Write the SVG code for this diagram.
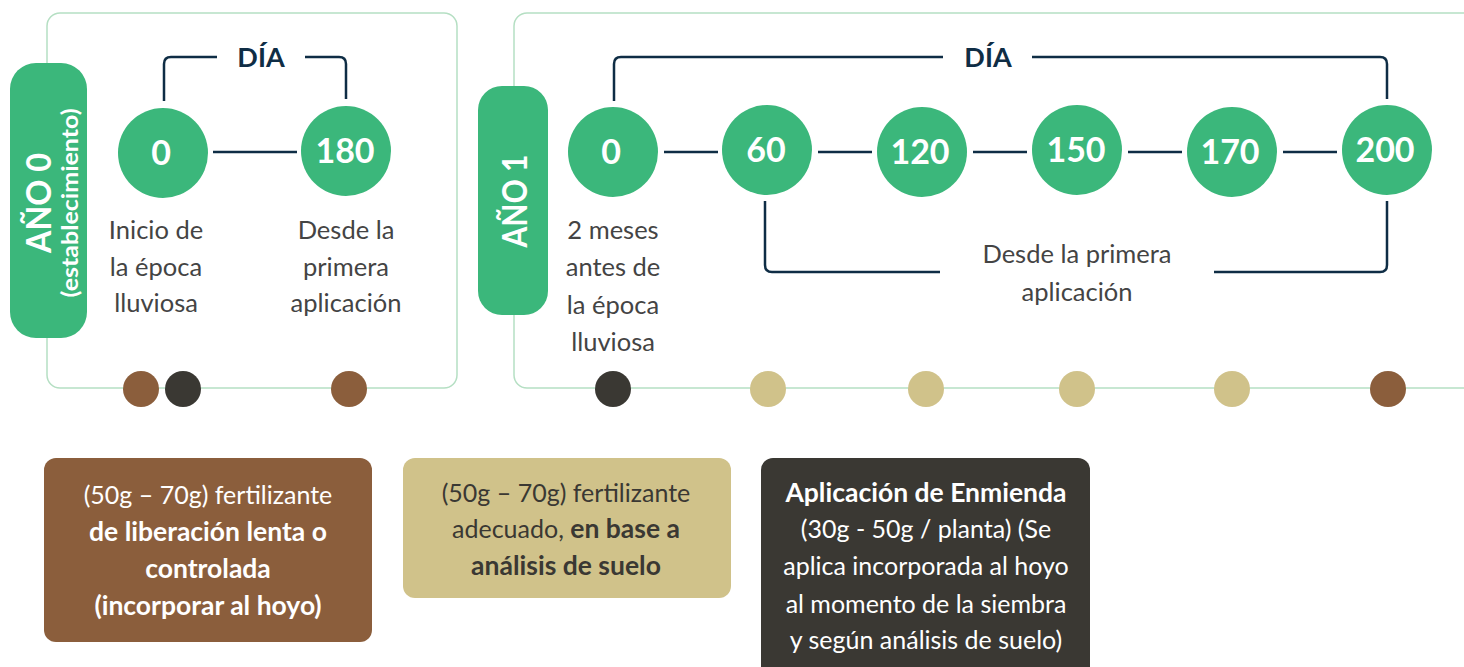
<svg xmlns="http://www.w3.org/2000/svg" width="1464" height="667" viewBox="0 0 1464 667">
<style>
.frame{fill:#fff;stroke:#b5dfc3;stroke-width:1.5}
.tag{fill:#3bb77b}
.circ{fill:#3bb77b}
.num{font-family:Lato,"Liberation Sans",sans-serif;font-weight:bold;font-size:34px;fill:#fff;text-anchor:middle}
.dia{font-family:Lato,"Liberation Sans",sans-serif;font-weight:bold;font-size:27px;fill:#0f2d45;text-anchor:middle}
.lbl{font-family:Lato,"Liberation Sans",sans-serif;font-size:25.5px;fill:#444;text-anchor:middle}
.yr{font-family:Lato,"Liberation Sans",sans-serif;font-weight:bold;fill:#fff;text-anchor:middle}
.ln{fill:none;stroke:#0f2d45;stroke-width:2.5}
.box{font-family:Lato,"Liberation Sans",sans-serif;font-size:25px;text-anchor:middle}
.b{font-weight:bold;font-size:26.5px}
.brown{fill:#8b5e3c}.dark{fill:#3a3833}.tan{fill:#d0c28a}
</style>
<g id="frame0"><rect class="frame" x="47" y="13" width="410" height="375" rx="13"/></g>
<g id="frame1"><rect class="frame" x="514" y="13" width="980" height="375" rx="13"/></g>
<g id="connectors">
<path class="ln" d="M164 101 V64 Q164 57 171 57 H217"/>
<path class="ln" d="M305 57 H339 Q346 57 346 64 V99"/>
<line class="ln" x1="213" y1="152" x2="297" y2="152"/>
<path class="ln" d="M614 101 V64 Q614 57 621 57 H943"/>
<path class="ln" d="M1032 57 H1380 Q1387 57 1387 64 V99"/>
<line class="ln" x1="664" y1="152" x2="718" y2="152"/>
<line class="ln" x1="818" y1="152" x2="872" y2="152"/>
<line class="ln" x1="973" y1="152" x2="1027" y2="152"/>
<line class="ln" x1="1128" y1="152" x2="1182" y2="152"/>
<line class="ln" x1="1283" y1="152" x2="1337" y2="152"/>
<path class="ln" d="M765 201 V265 Q765 272 772 272 H940"/>
<path class="ln" d="M1214 272 H1380 Q1387 272 1387 265 V201"/>
</g>
<g id="year0">
<rect class="tag" x="10" y="63" width="77" height="275" rx="26"/>
<text class="yr" transform="translate(51,203) rotate(-90)" font-size="34" textLength="100" lengthAdjust="spacingAndGlyphs">AÑO 0</text>
<text class="yr" transform="translate(78,203) rotate(-90)" font-size="22" textLength="189" lengthAdjust="spacingAndGlyphs">(establecimiento)</text>
</g>
<g id="year1">
<rect class="tag" x="478" y="86" width="70" height="229" rx="24"/>
<text class="yr" transform="translate(527,201) rotate(-90)" font-size="34" textLength="93" lengthAdjust="spacingAndGlyphs">AÑO 1</text>
</g>
<text class="dia" x="261" y="67">DÍA</text>
<text class="dia" x="988" y="67">DÍA</text>
<g id="d0a"><circle class="circ" cx="163" cy="153" r="45"/><text class="num" x="161" y="165">0</text></g>
<g id="d180a"><circle class="circ" cx="346" cy="151" r="45"/><text class="num" x="345" y="163">180</text></g>
<g id="d0b"><circle class="circ" cx="613" cy="152" r="45"/><text class="num" x="611" y="164">0</text></g>
<g id="d60"><circle class="circ" cx="767" cy="150" r="45"/><text class="num" x="766" y="162">60</text></g>
<g id="d120"><circle class="circ" cx="922" cy="152" r="45"/><text class="num" x="920" y="164">120</text></g>
<g id="d150"><circle class="circ" cx="1077" cy="150" r="45"/><text class="num" x="1076" y="162">150</text></g>
<g id="d170"><circle class="circ" cx="1232" cy="152" r="45"/><text class="num" x="1230" y="164">170</text></g>
<g id="d200"><circle class="circ" cx="1387" cy="150" r="45"/><text class="num" x="1385" y="162">200</text></g>
<g id="labels">
<text class="lbl" x="156" y="239">Inicio de</text>
<text class="lbl" x="156" y="276">la época</text>
<text class="lbl" x="156" y="312">lluviosa</text>
<text class="lbl" x="346" y="239">Desde la</text>
<text class="lbl" x="346" y="276">primera</text>
<text class="lbl" x="346" y="312">aplicación</text>
<text class="lbl" x="613" y="239">2 meses</text>
<text class="lbl" x="613" y="276">antes de</text>
<text class="lbl" x="613" y="314">la época</text>
<text class="lbl" x="613" y="351">lluviosa</text>
<text class="lbl" x="1077" y="263">Desde la primera</text>
<text class="lbl" x="1077" y="301">aplicación</text>
</g>
<g id="dots">
<circle class="brown" cx="141" cy="389" r="18"/>
<circle class="dark" cx="183" cy="389" r="18"/>
<circle class="brown" cx="349" cy="389" r="18"/>
<circle class="dark" cx="613" cy="389" r="18"/>
<circle class="tan" cx="768" cy="389" r="18"/>
<circle class="tan" cx="926" cy="389" r="18"/>
<circle class="tan" cx="1077" cy="389" r="18"/>
<circle class="tan" cx="1232" cy="389" r="18"/>
<circle class="brown" cx="1388" cy="389" r="18"/>
</g>
<g id="legend-brown">
<rect class="brown" x="44" y="458" width="328" height="184" rx="12"/>
<text class="box" fill="#fff" x="208" y="504">(50g – 70g) fertilizante</text>
<text class="box b" fill="#fff" x="208" y="541">de liberación lenta o</text>
<text class="box b" fill="#fff" x="208" y="578">controlada</text>
<text class="box b" fill="#fff" x="208" y="615">(incorporar al hoyo)</text>
</g>
<g id="legend-tan">
<rect class="tan" x="403" y="458" width="328" height="140" rx="12"/>
<text class="box" fill="#3a3833" x="566" y="502">(50g – 70g) fertilizante</text>
<text class="box" fill="#3a3833" x="566" y="538">adecuado, <tspan class="b">en base a</tspan></text>
<text class="box b" fill="#3a3833" x="566" y="575">análisis de suelo</text>
</g>
<g id="legend-dark">
<rect class="dark" x="761" y="458" width="329" height="230" rx="12"/>
<text class="box b" fill="#fff" x="926" y="502">Aplicación de Enmienda</text>
<text class="box" fill="#fff" x="926" y="538">(30g - 50g / planta) (Se</text>
<text class="box" fill="#fff" x="926" y="575">aplica incorporada al hoyo</text>
<text class="box" fill="#fff" x="926" y="613">al momento de la siembra</text>
<text class="box" fill="#fff" x="926" y="649">y según análisis de suelo)</text>
</g>
</svg>
